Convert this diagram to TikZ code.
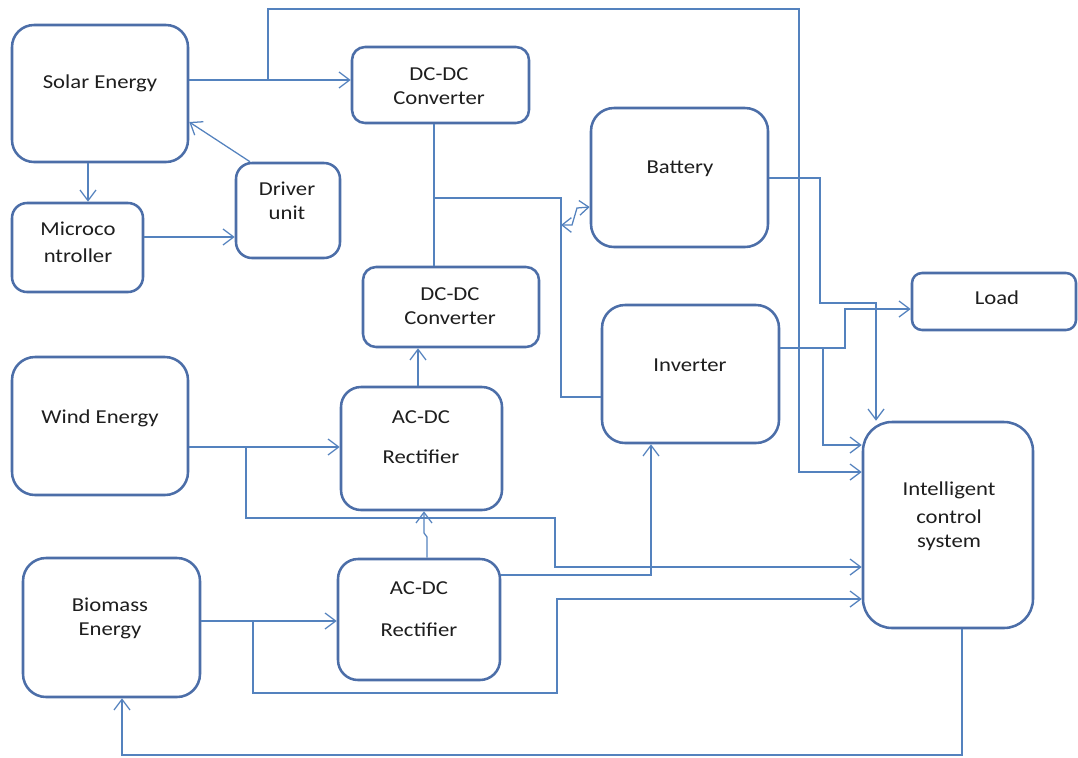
\documentclass[tikz,border=0pt]{standalone}
\usepackage{fontspec}
\setmainfont{Carlito}[FakeStretch=1.15]
\usetikzlibrary{arrows.meta}

\definecolor{boxblue}{RGB}{76,110,168}
\definecolor{wireblue}{RGB}{84,130,190}
\definecolor{txtgray}{RGB}{30,30,30}

\tikzset{
	blk/.style n args={3}{draw=boxblue, line width=1.9pt, fill=white, inner sep=0pt,
		minimum width=#1*0.75pt, minimum height=#2*0.75pt, rounded corners=#3*0.75pt},
	lbl/.style={text=txtgray, font=\fontsize{14.8}{19}\selectfont, align=center, inner sep=0pt},
	wire/.style={draw=wireblue, line width=0.95pt},
	arr/.style={wire, -{Straight Barb[length=8pt,width=12pt]}},
	darr/.style={wire, {Straight Barb[length=7pt,width=11pt]}-{Straight Barb[length=7pt,width=11pt]}}
}

\begin{document}
\begin{tikzpicture}[x=0.75pt,y=0.75pt,yscale=-1,xscale=1]
		\useasboundingbox (0,0) rectangle (1078,757);
		
		%blocks
		\node [blk={176}{137}{22}] (solar) at (100,93.5) {};
		\node [blk={177}{76}{13}] (dcdcA) at (440.5,85) {};
		\node [blk={131}{89}{15}] (micro) at (77.5,247.5) {};
		\node [blk={104}{95}{16}] (driver) at (288,210.5) {};
		\node [blk={177}{139}{23}] (battery) at (679.5,177.5) {};
		\node [blk={176}{80}{13}] (dcdcB) at (451,307) {};
		\node [blk={164}{57}{10}] (load) at (994,301.5) {};
		\node [blk={177}{138}{23}] (inverter) at (690.5,374) {};
		\node [blk={176}{138}{23}] (wind) at (100,426) {};
		\node [blk={161}{123}{20}] (acdcA) at (421.5,448.5) {};
		\node [blk={177}{139}{23}] (biomass) at (111.5,627.5) {};
		\node [blk={162}{121}{20}] (acdcB) at (419,619.5) {};
		\node [blk={170}{206}{29}] (ics) at (948,525) {};
		
		%texts
		\node [lbl] (solarTxt) at (100,83) {Solar Energy};
		\node [lbl] (dcdcATxt) at (439,86) {DC-DC\\[-0.5pt]Converter};
		\node [lbl] (microTxt) at (78,242) {Microco\\[1pt]ntroller};
		\node [lbl] (driverTxt) at (287,201) {Driver\\[-1pt]unit};
		\node [lbl] (batteryTxt) at (680,169) {Battery};
		\node [lbl] (dcdcBTxt) at (450,306) {DC-DC\\[-0.5pt]Converter};
		\node [lbl] (loadTxt) at (997,298) {Load};
		\node [lbl] (inverterTxt) at (690,365) {Inverter};
		\node [lbl] (windTxt) at (100,418) {Wind Energy};
		\node [lbl] (acdcATxt) at (421,437) {AC-DC\\[11pt]Rectifier};
		\node [lbl] (biomassTxt) at (110,618) {Biomass\\[-1pt]Energy};
		\node [lbl] (acdcBTxt) at (419,609) {AC-DC\\[12pt]Rectifier};
		\node [lbl] (icsTxt) at (949,516) {Intelligent\\[2pt]control\\[-1pt]system};
		
		%junctions
		\coordinate (solarJoin) at (268,80);
		\coordinate (dcJoin) at (434,198);
		\coordinate (battJoin) at (561,225);
		\coordinate (windJoin) at (246,447);
		\coordinate (bioJoin) at (253,621);
		\coordinate (invJoin) at (823,348);
		
		%connectors
		\draw [arr] (solar.east |- solarJoin) -- (dcdcA.west |- solarJoin);
		\draw [arr] (solarJoin) |- (799,9) |- (ics.west |- 0,472);
		\draw [arr] (solar.south -| 88,0) -- (micro.north -| 88,0);
		\draw [arr] (micro.east |- 0,237) -- (driver.west |- 0,237);
		\draw [arr] (driver.north -| 250,0) -- (solar.east |- 0,122);
		
		\draw [wire] (dcdcA.south -| dcJoin) -- (dcdcB.north -| dcJoin);
		\draw [wire] (dcJoin) -| (561,397) -- (inverter.west |- 0,397);
		\draw [darr] (battJoin) -- (572,225) -- (577,208) -- (battery.west |- 0,207);
		
		\draw [arr] (acdcA.north -| 418,0) -- (dcdcB.south -| 418,0);
		\draw [arr] (wind.east |- windJoin) -- (acdcA.west |- windJoin);
		\draw [arr] (windJoin) |- (555,518) |- (ics.west |- 0,567);
		\draw [arr] (acdcB.north -| 427,0) -- (427,537) -- (424,533) -- (acdcA.south -| 424,0);
		\draw [arr] (acdcB.east |- 0,575) -| (inverter.south -| 651,0);
		
		\draw [arr] (biomass.east |- bioJoin) -- (acdcB.west |- bioJoin);
		\draw [arr] (bioJoin) |- (557,693) |- (ics.west |- 0,599);
		\draw [arr] (ics.south -| 962,0) |- (122,755) -- (biomass.south -| 122,0);
		
		\draw [arr] (battery.east |- 0,178) -- (820,178) |- (876,303) -- (ics.north -| 876,0);
		\draw [arr] (inverter.east |- invJoin) -- (845,348) |- (load.west |- 0,309);
		\draw [arr] (invJoin) |- (ics.west |- 0,445);
		
\end{tikzpicture}
\end{document}
